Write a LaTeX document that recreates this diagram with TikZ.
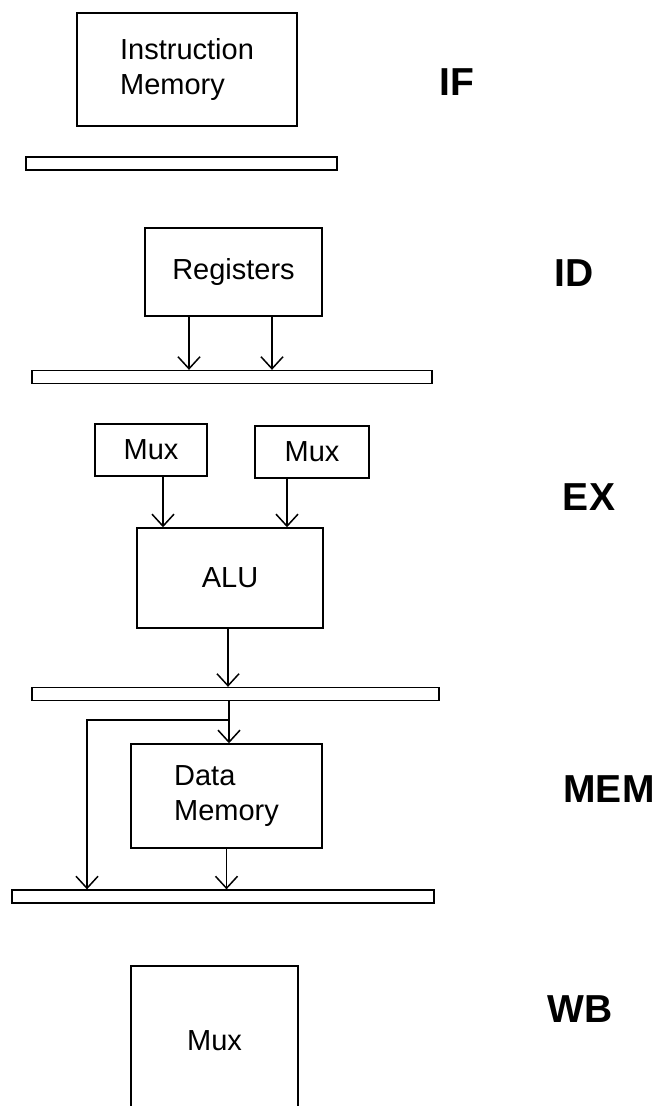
\documentclass[tikz,border=0pt]{standalone}
\usepackage{fontspec}
\setmainfont{Liberation Sans}
\usetikzlibrary{arrows.meta}

\begin{document}
\begin{tikzpicture}
		[x=1pt,y=-1pt,line width=1.5pt,
		%Styles
		unit/.style={draw,rectangle,inner sep=0pt,font=\fontsize{29}{35}\selectfont},
		latch/.style={draw,rectangle,inner sep=0pt,line width=1.3pt,minimum height=13pt},
		stage/.style={font=\fontsize{39}{40}\selectfont\bfseries},
		flow/.style={-{Straight Barb[length=12pt,width=22pt]}}
		]

		\useasboundingbox (0,0) rectangle (658,1106);
		\clip (0,0) rectangle (658,1106);

		%Functional units
		\node[unit,minimum width=220pt,minimum height=113pt,align=left] (imem) at (187,69.5) {Instruction\\Memory};
		\node[unit,minimum width=177pt,minimum height=88pt] (reg) at (233.5,272) {Registers};
		\node[unit,minimum width=112pt,minimum height=52pt] (mux1) at (151,450) {Mux};
		\node[unit,minimum width=114pt,minimum height=52pt] (mux2) at (312,452) {Mux};
		\node[unit,minimum width=186pt,minimum height=100pt] (alu) at (230,578) {ALU};
		\node[unit,minimum width=191pt,minimum height=104pt,align=left] (dmem) at (226.5,796) {Data\\Memory};
		\node[unit,minimum width=167pt,minimum height=150pt] (wbmux) at (214.5,1041) {Mux};

		%Pipeline registers
		\node[latch,minimum width=311pt] (bar1) at (181.5,163.5) {};
		\node[latch,minimum width=400pt] (bar2) at (232,377) {};
		\node[latch,minimum width=407pt] (bar3) at (235.5,694) {};
		\node[latch,minimum width=422pt] (bar4) at (223,896.5) {};

		%Stage names
		\node[stage] (IF) at (457,82) {IF};
		\node[stage] (ID) at (574,273) {ID};
		\node[stage] (EX) at (589,497) {EX};
		\node[stage] (MEM) at (609,789) {MEM};
		\node[stage] (WB) at (580,1009) {WB};

		%Data flow
		\coordinate (split) at (229,720);
		\coordinate (bypass) at (87,720);

		\draw[flow] ([xshift=-44.5pt]reg.south) -- ([xshift=-44.5pt]reg.south |- bar2.north);
		\draw[flow] ([xshift=38.5pt]reg.south) -- ([xshift=38.5pt]reg.south |- bar2.north);
		\draw[flow] ([xshift=12pt]mux1.south) -- ([xshift=12pt]mux1.south |- alu.north);
		\draw[flow] ([xshift=-25pt]mux2.south) -- ([xshift=-25pt]mux2.south |- alu.north);
		\draw[flow] ([xshift=-2pt]alu.south) -- ([xshift=-2pt]alu.south |- bar3.north);
		\draw (bar3.south -| split) -- (split);
		\draw[flow] (split) -- (split |- dmem.north);
		\draw[flow] (split) -- (bypass) -- (bypass |- bar4.north);
		\draw[flow] (dmem.south) -- (dmem.south |- bar4.north);
	\end{tikzpicture}
\end{document}
